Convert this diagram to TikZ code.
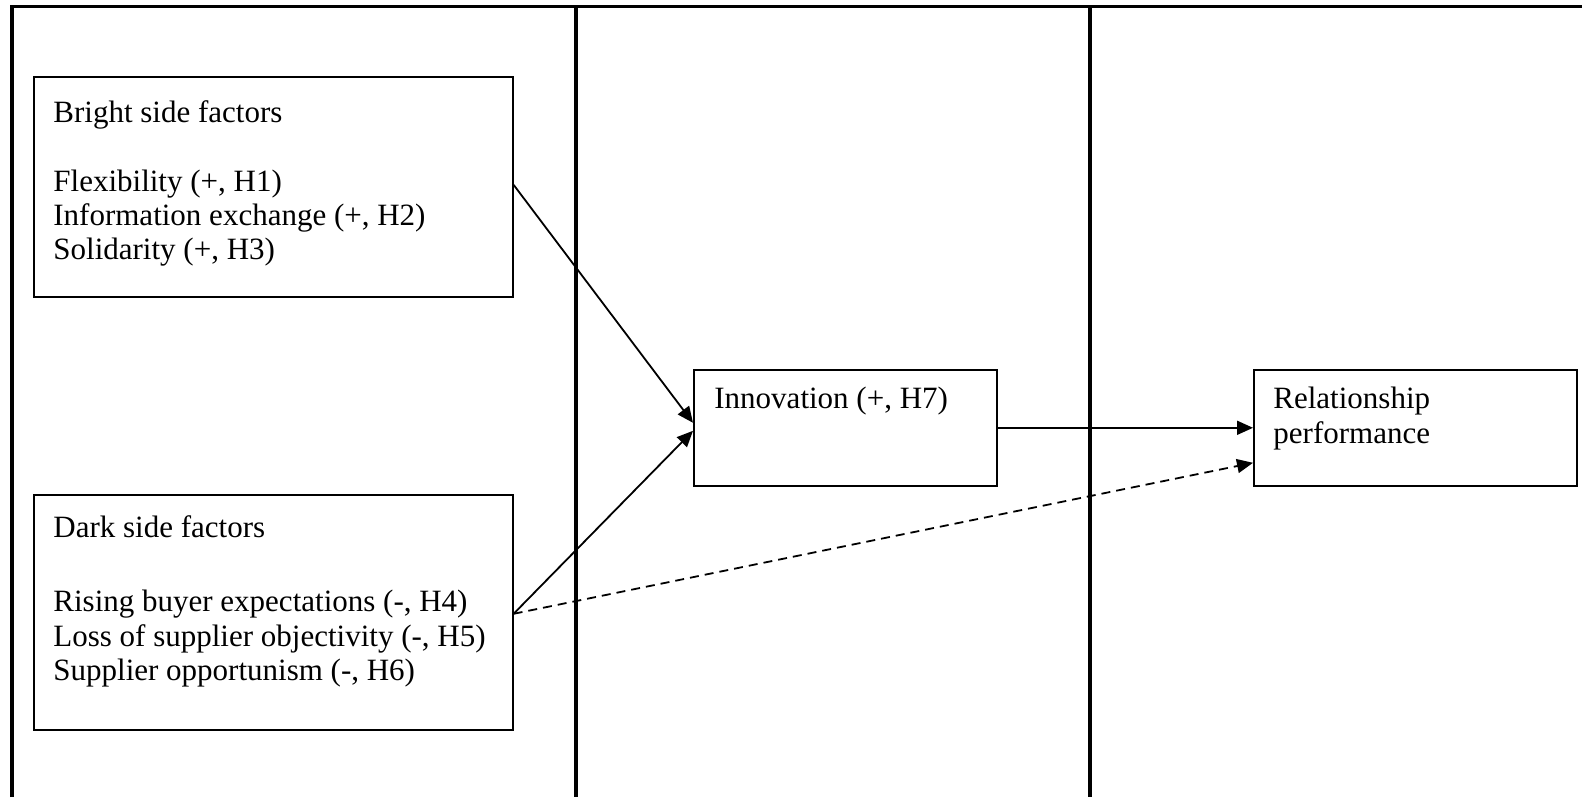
\documentclass[tikz,border=0pt]{standalone}
\usepackage{fontspec}
\setmainfont{Liberation Serif}
\usetikzlibrary{positioning,arrows.meta}
\begin{document}
\begin{tikzpicture}[x=.5pt, y=-.5pt, font=\fontsize{15.5}{17.2}\selectfont, line join=miter, >={Triangle[length=8pt,width=7pt]},
 box/.style={draw, line width=.8pt, inner sep=0pt, anchor=north west},
 txt/.style={inner sep=0pt, anchor=north west, align=left},
 link/.style={->, line width=.9pt}]
 \def\W{1582} \def\H{797}
 \useasboundingbox (0,0) rectangle (\W,\H);
 \draw[line width=1.8pt] (12,\H)--(12,6.5)--(\W,6.5);
 \draw[line width=1.8pt] (576,6.5)--(576,\H) (1090,6.5)--(1090,\H);
 \node[box, minimum width=239.5pt, minimum height=110pt] (bright) at (33,76) {};
 \node[box, minimum width=239.5pt, minimum height=117.5pt] (dark) at (33,494) {};
 \node[box, minimum width=151.5pt, minimum height=58pt] (innov) at (693,369) {};
 \node[box, minimum width=161.5pt, minimum height=58pt] (perf) at (1253,369) {};
 \node[txt, below right=12pt and 10pt of bright.north west] (brighttxt)
  {Bright side factors\\[17.2pt]Flexibility (+, H1)\\Information exchange (+, H2)\\Solidarity (+, H3)};
 \node[txt, below right=10.5pt and 10pt of dark.north west] (darktxt)
  {Dark side factors\\[20pt]Rising buyer expectations (-, H4)\\Loss of supplier objectivity (-, H5)\\Supplier opportunism (-, H6)};
 \node[txt, below right=9pt and 10.5pt of innov.north west] (innovtxt) {Innovation (+, H7)};
 \node[txt, below right=9pt and 10pt of perf.north west] (perftxt) {Relationship\\performance};
 \draw[link] ([yshift=1pt]bright.east) -- ([yshift=2.5pt]innov.west);
 \draw[link] ([yshift=-.75pt]dark.east) -- ([yshift=-1.5pt]innov.west);
 \draw[link] (innov.east) -- (perf.west);
 \draw[link, dash pattern=on 4.5pt off 3pt] ([yshift=-.75pt]dark.east) -- ([yshift=-17.5pt]perf.west);
\end{tikzpicture}
\end{document}
